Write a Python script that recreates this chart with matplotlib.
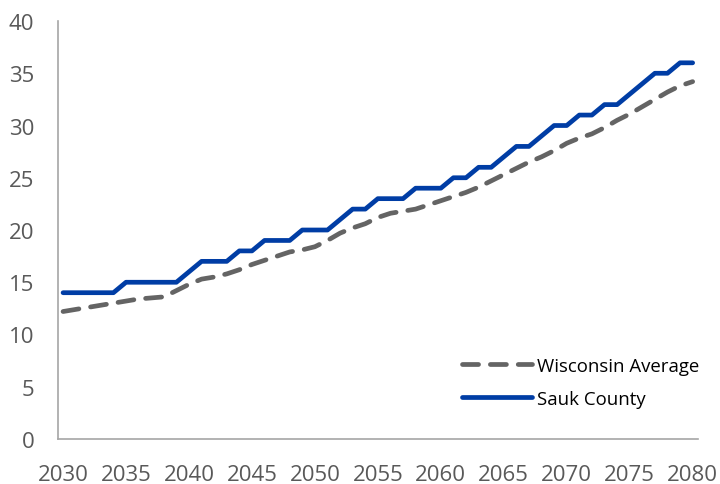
import numpy as np
import matplotlib
matplotlib.use('Agg')
import matplotlib.pyplot as plt

plt.rcParams['font.family'] = ['Open Sans', 'DejaVu Sans']

# 數據
years = list(range(2030, 2081))
sauk_county = [14, 14, 14, 14, 14, 15, 15, 15, 15, 15,
               16, 17, 17, 17, 18, 18, 19, 19, 19, 20,
               20, 20, 21, 22, 22, 23, 23, 23, 24, 24,
               24, 25, 25, 26, 26, 27, 28, 28, 29, 30,
               30, 31, 31, 32, 32, 33, 34, 35, 35, 36,
               36]
wisconsin_avg = [12.2, 12.4, 12.6, 12.8, 13.0, 13.2, 13.4, 13.5, 13.6, 14.2,
                 14.8, 15.3, 15.5, 15.8, 16.2, 16.7, 17.1, 17.5, 17.9, 18.1,
                 18.4, 19.0, 19.7, 20.2, 20.6, 21.2, 21.6, 21.8, 22.0, 22.4,
                 22.8, 23.2, 23.6, 24.1, 24.7, 25.3, 25.9, 26.5, 27.0, 27.6,
                 28.3, 28.8, 29.2, 29.8, 30.5, 31.1, 31.8, 32.5, 33.2, 33.8,
                 34.2]
x_ticks = [2030, 2035, 2040, 2045, 2050, 2055, 2060, 2065, 2070, 2075, 2080]
y_ticks = [0, 5, 10, 15, 20, 25, 30, 35, 40]

fig = plt.figure(figsize=(7.2, 4.85), dpi=100)
ax = fig.add_axes([0.0806, 0.0928, 0.8884, 0.8618])

ax.plot(years, wisconsin_avg, color='#646464', lw=3.4, ls=(0, (3.4, 2.5)),
        dash_capstyle='round', solid_capstyle='round', label='Wisconsin Average')
ax.plot(years, sauk_county, color='#003DA5', lw=3.4, solid_capstyle='round',
        label='Sauk County')

ax.set_xlim(2029.6, 2080.4)
ax.set_ylim(0, 40)
ax.set_xticks(x_ticks)
ax.set_yticks(y_ticks)
ax.tick_params(length=0, labelsize=16, colors='#595959')
ax.tick_params(axis='x', pad=18)
ax.tick_params(axis='y', pad=17)

for side in ['top', 'right']:
    ax.spines[side].set_visible(False)
for side in ['left', 'bottom']:
    ax.spines[side].set_color('#A6A6A6')
    ax.spines[side].set_linewidth(1.2)

ax.legend(loc='center left', bbox_to_anchor=(0.641, 0.210),
          bbox_transform=fig.transFigure, frameon=False, fontsize=13.4,
          handlelength=3.8, handletextpad=0.25, labelspacing=0.8,
          borderpad=0, borderaxespad=0)

fig.savefig('out.png', dpi=100)
